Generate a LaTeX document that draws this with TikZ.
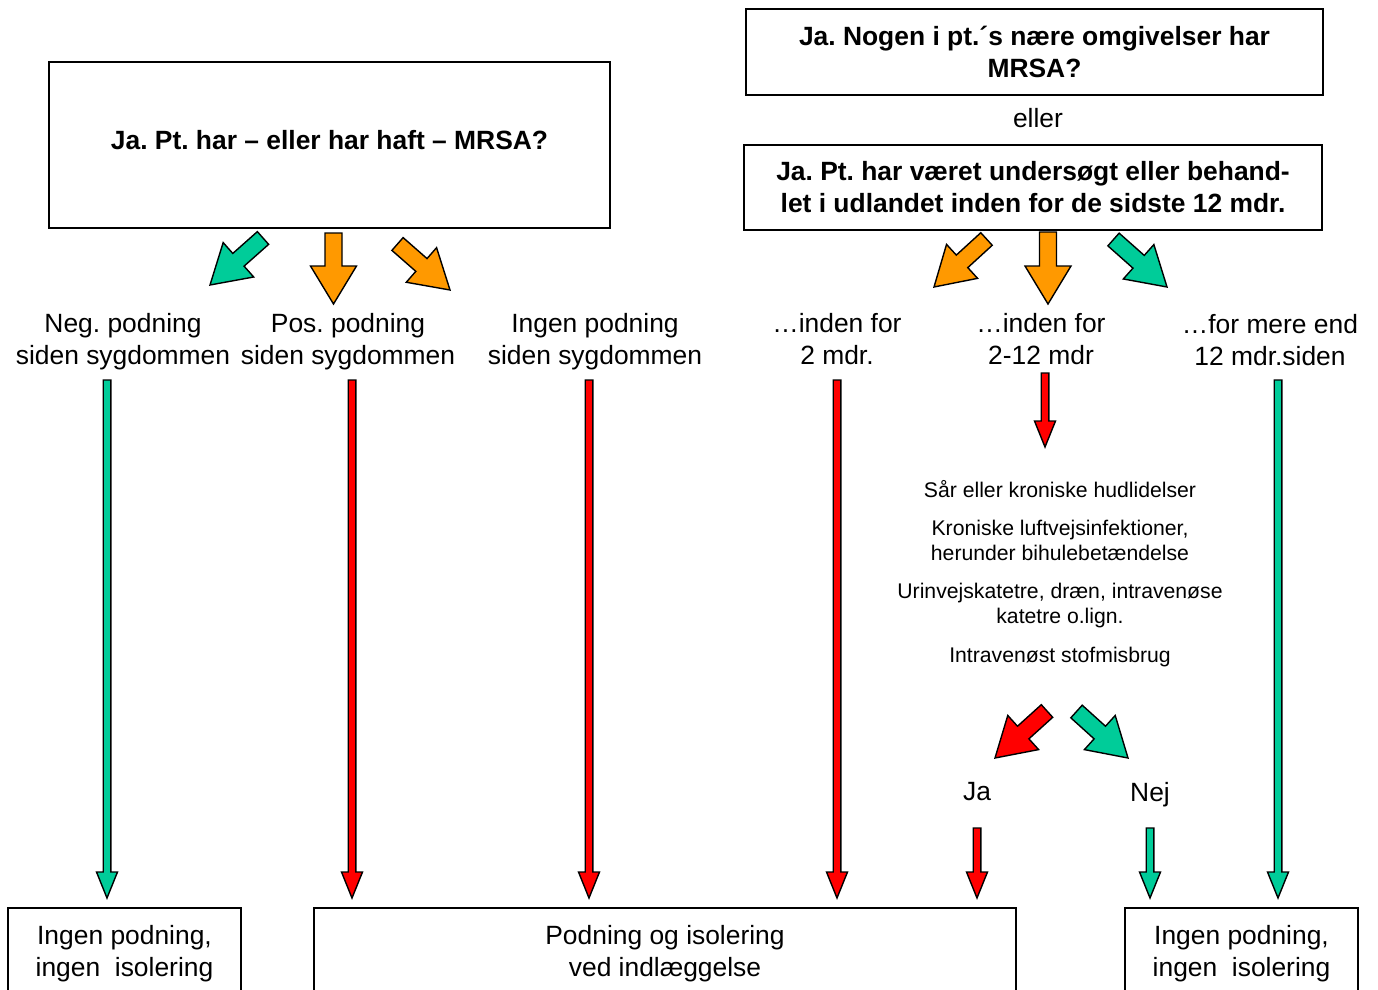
\documentclass[tikz,border=0pt]{standalone}
\usepackage{fontspec}
\setmainfont{Liberation Sans}
\usetikzlibrary{calc}
\frenchspacing
\definecolor{mgreen}{RGB}{0,204,153}
\definecolor{morange}{RGB}{255,153,0}
\definecolor{mred}{RGB}{255,0,0}
\newcommand\blockarrow[6]{%
  \coordinate (ba-h) at ($(#2)!#5!(#1)$);
  \draw[arrowline, fill=#6] ($(#1)!#3!90:(#2)$) -- ($(ba-h)!#3!90:(#2)$) -- ($(ba-h)!#4!90:(#2)$) -- (#2) -- ($(ba-h)!#4!-90:(#2)$) -- ($(ba-h)!#3!-90:(#2)$) -- ($(#1)!#3!-90:(#2)$) -- cycle;
}
\newcommand\bigarrow[3]{\blockarrow{#1}{#2}{8.5pt}{23pt}{38pt}{#3}}
\newcommand\thinarrow[3]{\blockarrow{#1}{#2}{3.8pt}{10.5pt}{26pt}{#3}}
\tikzset{
  arrowline/.style={draw=black, line width=1.4pt, line join=miter},
  box/.style={draw=black, line width=1.8pt, inner sep=0pt, align=center, font=\fontsize{26.4}{32}\selectfont},
  bbox/.style={box, font=\fontsize{26.4}{32}\selectfont\bfseries},
  lbl/.style={inner sep=0pt, align=center, font=\fontsize{26.4}{32}\selectfont},
  small/.style={inner sep=0pt, align=center, font=\fontsize{21.2}{25}\selectfont},
}
\begin{document}
\begin{tikzpicture}[x=1pt,y=-1pt]
\useasboundingbox (0,0) rectangle (1378,990);
\clip (0,0) rectangle (1378,990);
% top boxes
\node[bbox, minimum width=561pt, minimum height=166pt] (b1) at (329.5,145) {\raisebox{10pt}{Ja. Pt. har -- eller har haft -- MRSA?}};
\node[bbox, minimum width=577pt, minimum height=86pt] (b2) at (1034.5,52) {Ja. Nogen i pt.´s nære omgivelser har\\MRSA?};
\node[lbl] (eller) at (1038,118) {eller};
\node[bbox, minimum width=578pt, minimum height=85pt] (b3) at (1033,187.5) {Ja. Pt. har været undersøgt eller behand-\\let i udlandet inden for de sidste 12 mdr.};
% labels
\node[lbl] (neg) at (123,342) {Neg. podning\\siden sygdommen};
\node[lbl] (pos) at (348,342) {Pos. podning\\siden sygdommen};
\node[lbl] (ingen) at (595,342) {Ingen podning\\siden sygdommen};
\node[lbl] (i2) at (837,339) {…inden for\\2 mdr.};
\node[lbl] (i212) at (1041,339) {…inden for\\2-12 mdr};
\node[lbl] (mere) at (1270,340) {…for mere end\\12 mdr.siden};
% small texts
\node[small] (s1) at (1060,489) {Sår eller kroniske hudlidelser};
\node[small] (s2) at (1060,540) {Kroniske luftvejsinfektioner,\\herunder bihulebetændelse};
\node[small] (s3) at (1060,606) {Urinvejskatetre, dræn, intravenøse\\katetre o.lign.};
\node[small] (s4) at (1060,657) {Intravenøst stofmisbrug};
\node[lbl] (ja) at (977,792) {Ja};
\node[lbl] (nej) at (1150,795) {Nej};
% bottom boxes
\node[box, minimum width=233pt, minimum height=92pt] (r1) at (124.5,954) {Ingen podning,\\ingen\ \ isolering};
\node[box, minimum width=702pt, minimum height=92pt] (r2) at (665,954) {Podning og isolering\\ved indlæggelse};
\node[box, minimum width=233pt, minimum height=92pt] (r3) at (1241.5,954) {Ingen podning,\\ingen\ \ isolering};
% big arrow coordinates
\coordinate (t1) at (263,238); \coordinate (p1) at (210,285);
\coordinate (t2) at (333.5,233); \coordinate (p2) at (333.5,304);
\coordinate (t3) at (397.5,244); \coordinate (p3) at (450,290);
\coordinate (t4) at (986.5,239); \coordinate (p4) at (934,287);
\coordinate (t5) at (1048,232); \coordinate (p5) at (1048,304);
\coordinate (t6) at (1113.5,239.5); \coordinate (p6) at (1167,287);
\coordinate (t7) at (1047,711); \coordinate (p7) at (995,758);
\coordinate (t8) at (1076.5,711.5); \coordinate (p8) at (1128,758);
\bigarrow{t1}{p1}{mgreen}
\bigarrow{t2}{p2}{morange}
\bigarrow{t3}{p3}{morange}
\bigarrow{t4}{p4}{morange}
\bigarrow{t5}{p5}{morange}
\bigarrow{t6}{p6}{mgreen}
\bigarrow{t7}{p7}{mred}
\bigarrow{t8}{p8}{mgreen}
% thin arrows
\coordinate (a1) at (107,380); \coordinate (e1) at (107,898);
\coordinate (a2) at (352,380); \coordinate (e2) at (352,898);
\coordinate (a3) at (589,380); \coordinate (e3) at (589,898);
\coordinate (a4) at (837,380); \coordinate (e4) at (837,898);
\coordinate (a5) at (1045,373); \coordinate (e5) at (1045,447);
\coordinate (a6) at (1278,380); \coordinate (e6) at (1278,898);
\coordinate (a7) at (977,828); \coordinate (e7) at (977,898);
\coordinate (a8) at (1150,828); \coordinate (e8) at (1150,898);
\thinarrow{a1}{e1}{mgreen}
\thinarrow{a2}{e2}{mred}
\thinarrow{a3}{e3}{mred}
\thinarrow{a4}{e4}{mred}
\thinarrow{a5}{e5}{mred}
\thinarrow{a6}{e6}{mgreen}
\thinarrow{a7}{e7}{mred}
\thinarrow{a8}{e8}{mgreen}
\end{tikzpicture}
\end{document}
